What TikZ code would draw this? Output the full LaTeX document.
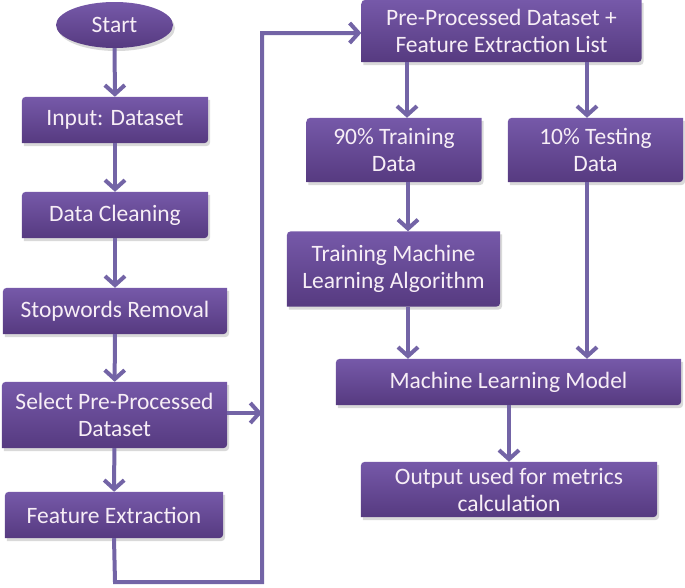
\documentclass[tikz,border=0pt]{standalone}
\usepackage{fontspec}
\setmainfont{Carlito}
\usetikzlibrary{arrows.meta,shapes.geometric,backgrounds}
\definecolor{ptop}{HTML}{7659A9}
\definecolor{pbot}{HTML}{563A80}
\definecolor{parrow}{HTML}{7364A6}
\definecolor{ptext}{HTML}{F7EEF6}
\tikzset{
  pbox/.style={text=ptext, align=center, inner sep=0pt,
    font=\fontsize{23.5}{27}\selectfont},
  conn/.style={draw=parrow, line width=4pt,
    -{Straight Barb[length=9pt,width=20pt,line width=4pt]}},
  shadowfill/.style={fill=black, opacity=0.15},
  boxfill/.style={top color=ptop, bottom color=pbot},
}
\newcommand{\boxbg}[1]{%
  \fill[shadowfill] ([shift={(2pt,-3pt)}]#1.south west) -- ([shift={(2pt,-12pt)}]#1.north west)
    .. controls ([shift={(2pt,-3pt)}]#1.north west) .. ([shift={(11pt,-3pt)}]#1.north west)
    -- ([shift={(2pt,-3pt)}]#1.north east) -- ([shift={(2pt,6pt)}]#1.south east)
    .. controls ([shift={(2pt,-3pt)}]#1.south east) .. ([shift={(-7pt,-3pt)}]#1.south east) -- cycle;
  \shade[boxfill] (#1.south west) -- ([yshift=-9pt]#1.north west)
    .. controls (#1.north west) .. ([xshift=9pt]#1.north west)
    -- (#1.north east) -- ([yshift=9pt]#1.south east)
    .. controls (#1.south east) .. ([xshift=-9pt]#1.south east) -- cycle;
}
\begin{document}
\begin{tikzpicture}[x=1pt,y=-1pt]
\useasboundingbox (0,0) rectangle (685,587);
% nodes
\node[pbox, ellipse, minimum width=117pt, minimum height=46pt] (start) at (114.5,25) {Start};
\node[pbox, minimum width=186pt, minimum height=46pt] (input) at (115,120) {Input: Dataset};
\node[pbox, minimum width=186pt, minimum height=46pt] (clean) at (115,215) {Data Cleaning};
\node[pbox, minimum width=224pt, minimum height=46pt] (stop) at (115,311) {Stopwords Removal};
\node[pbox, minimum width=225pt, minimum height=66pt] (select) at (114.5,415) {Select Pre-Processed\\Dataset};
\node[pbox, minimum width=218pt, minimum height=46pt] (feat) at (114,515) {Feature Extraction};
\node[pbox, minimum width=280pt, minimum height=62pt] (pre) at (501.5,31) {Pre-Processed Dataset +\\Feature Extraction List};
\node[pbox, minimum width=175pt, minimum height=64pt] (train) at (394,150) {90\% Training\\Data};
\node[pbox, minimum width=175pt, minimum height=64pt] (test) at (595.5,150) {10\% Testing\\Data};
\node[pbox, minimum width=213pt, minimum height=75pt] (algo) at (393.5,269) {Training Machine\\Learning Algorithm};
\node[pbox, minimum width=345pt, minimum height=46pt] (model) at (508.5,382) {Machine Learning Model};
\node[pbox, minimum width=296pt, minimum height=55pt] (out) at (509,489.5) {Output used for metrics\\calculation};
\begin{pgfonlayer}{background}
  \fill[shadowfill] ([shift={(2pt,-3pt)}]start.center) ellipse[x radius=58.5pt, y radius=23pt];
  \shade[boxfill] (start.center) ellipse[x radius=58.5pt, y radius=23pt];
  \boxbg{input}\boxbg{clean}\boxbg{stop}\boxbg{select}\boxbg{feat}
  \boxbg{pre}\boxbg{train}\boxbg{test}\boxbg{algo}\boxbg{model}\boxbg{out}
\end{pgfonlayer}
% coordinates
\coordinate (c1) at (115,582);
\coordinate (c2) at (262,582);
\coordinate (c3) at (262,33);
\coordinate (c4) at (262,413);
% connectors
\draw[conn] (start) -- (input);
\draw[conn] (input) -- (clean);
\draw[conn] (clean) -- (stop);
\draw[conn] (stop) -- (select);
\draw[conn] (select) -- (feat);
\draw[conn] (feat.south) -- (c1) -- (c2) -- (c3) -- (pre.west |- c3);
\draw[conn] (select.east |- c4) -- (c4);
\draw[conn] (pre.south -| 407,0) -- (train.north -| 407,0);
\draw[conn] (pre.south -| 587,0) -- (test.north -| 587,0);
\draw[conn] (train.south -| 408,0) -- (algo.north -| 408,0);
\draw[conn] (algo.south -| 408,0) -- (model.north -| 408,0);
\draw[conn] (test.south -| 587,0) -- (model.north -| 587,0);
\draw[conn] (model.south -| 509,0) -- (out.north -| 509,0);
\end{tikzpicture}
\end{document}
